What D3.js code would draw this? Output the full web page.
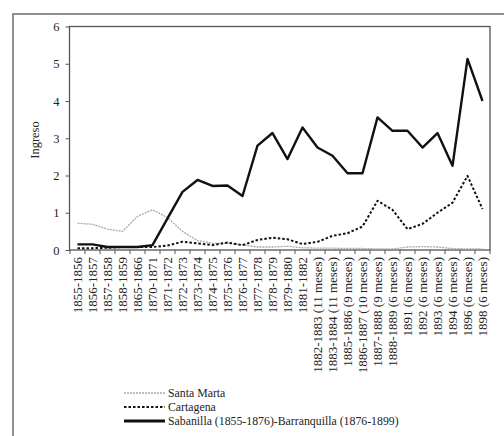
<!DOCTYPE html>
<html><head><meta charset="utf-8">
<script src="https://cdn.jsdelivr.net/npm/d3@7"></script>
<style>body{margin:0;background:#fff}svg{display:block}</style>
</head><body>
<script>
const categories = ["1855-1856","1856-1857","1857-1858","1858-1859","1865-1866","1870-1871","1871-1872","1872-1873","1873-1874","1874-1875","1875-1876","1876-1877","1877-1878","1878-1879","1879-1880","1881-1882","1882-1883 (11 meses)","1883-1884 (11 meses)","1885-1886 (9 meses)","1886-1887 (10 meses)","1887-1888 (9 meses)","1888-1889 (6 meses)","1891 (6 meses)","1892 (6 meses)","1893 (6 meses)","1894 (6 meses)","1896 (6 meses)","1898 (6 meses)"];
const santaMarta = [0.72,0.69,0.56,0.5,0.9,1.08,0.87,0.5,0.25,0.18,0.18,0.14,0.08,0.08,0.1,0.06,0.05,0.05,0.04,0.04,0.03,0.03,0.08,0.09,0.08,0.04,0.03,0.03];
const cartagena = [0.05,0.05,0.06,0.08,0.08,0.08,0.12,0.22,0.18,0.13,0.2,0.13,0.27,0.33,0.29,0.16,0.22,0.38,0.45,0.63,1.32,1.08,0.56,0.7,1.0,1.27,1.99,1.1];
const sabanilla = [0.15,0.15,0.08,0.08,0.08,0.13,0.85,1.56,1.88,1.72,1.73,1.45,2.8,3.14,2.44,3.29,2.75,2.53,2.06,2.06,3.56,3.2,3.2,2.75,3.14,2.26,5.13,4.0];
const yTicks = [0,1,2,3,4,5,6];
const legendLabels = ["Santa Marta","Cartagena","Sabanilla (1855-1876)-Barranquilla (1876-1899)"];

const FONT='"Liberation Serif"';
const W=504,H=436;
const svg=d3.select("body").append("svg").attr("width",W).attr("height",H);
const L=69.5,R=490,T=26.5,B=250;
const x=d3.scaleBand().domain(categories).range([L+0.5,R]);
const y=d3.scaleLinear().domain([0,6]).range([B,T]);

// outer frame
svg.append("path").attr("d",`M13,436 L13,14 L504,14`).attr("fill","none").attr("stroke","#8f8f8f").attr("stroke-width",2);

// plot box
svg.append("rect").attr("x",L).attr("y",T).attr("width",R-L).attr("height",B-T).attr("fill","none").attr("stroke","#555").attr("stroke-width",1.3);

// y axis
const ya=svg.append("g").attr("transform",`translate(${L},0)`).call(d3.axisLeft(y).tickValues(yTicks).tickSize(4).tickPadding(6).tickFormat(d3.format("d")));
ya.attr("font-family",null).attr("font-size",null);
ya.select(".domain").remove();
ya.selectAll("line").attr("stroke","#555");
ya.selectAll("text").attr("font-family",FONT).attr("font-size",12.5).attr("fill","#222");

// x axis ticks at band boundaries
const xa=svg.append("g");
const bounds=categories.map(c=>x(c)).concat([x(categories[categories.length-1])+x.bandwidth()]);
xa.selectAll("line").data(bounds).join("line").attr("x1",d=>d).attr("x2",d=>d).attr("y1",B).attr("y2",B+4).attr("stroke","#555");
xa.selectAll("text").data(categories).join("text")
  .attr("transform",d=>`translate(${x(d)+x.bandwidth()/2+4},${B+7}) rotate(-90)`)
  .attr("text-anchor","end").attr("font-family",FONT).attr("font-size",13).attr("fill","#222").text(d=>d);

// y title
svg.append("text").attr("transform",`translate(39,140) rotate(-90)`).attr("text-anchor","middle").attr("font-family",FONT).attr("font-size",12.5).attr("fill","#222").text("Ingreso");

const line=d3.line().x((d,i)=>x(categories[i])+x.bandwidth()/2).y(d=>y(d));
const styles=[
  {data:santaMarta,stroke:"#a8a8a8",w:1.3,dash:"2,1"},
  {data:cartagena,stroke:"#111",w:2,dash:"2.5,2"},
  {data:sabanilla,stroke:"#111",w:2.4,dash:null}
];
styles.forEach(s=>{
  svg.append("path").datum(s.data).attr("d",line).attr("fill","none").attr("stroke",s.stroke).attr("stroke-width",s.w).attr("stroke-dasharray",s.dash).attr("stroke-linejoin","round");
});

// legend
const lg=svg.append("g");
legendLabels.forEach((t,i)=>{
  const yy=393+i*14;
  const s=styles[i];
  lg.append("line").attr("x1",124).attr("x2",165).attr("y1",yy).attr("y2",yy).attr("stroke",s.stroke).attr("stroke-width",s.w+(i==2?0.6:0)).attr("stroke-dasharray",s.dash);
  lg.append("text").attr("x",168).attr("y",yy+4).attr("font-family",FONT).attr("font-size",11.8).attr("fill","#222").text(t);
});
</script>
</body></html>
